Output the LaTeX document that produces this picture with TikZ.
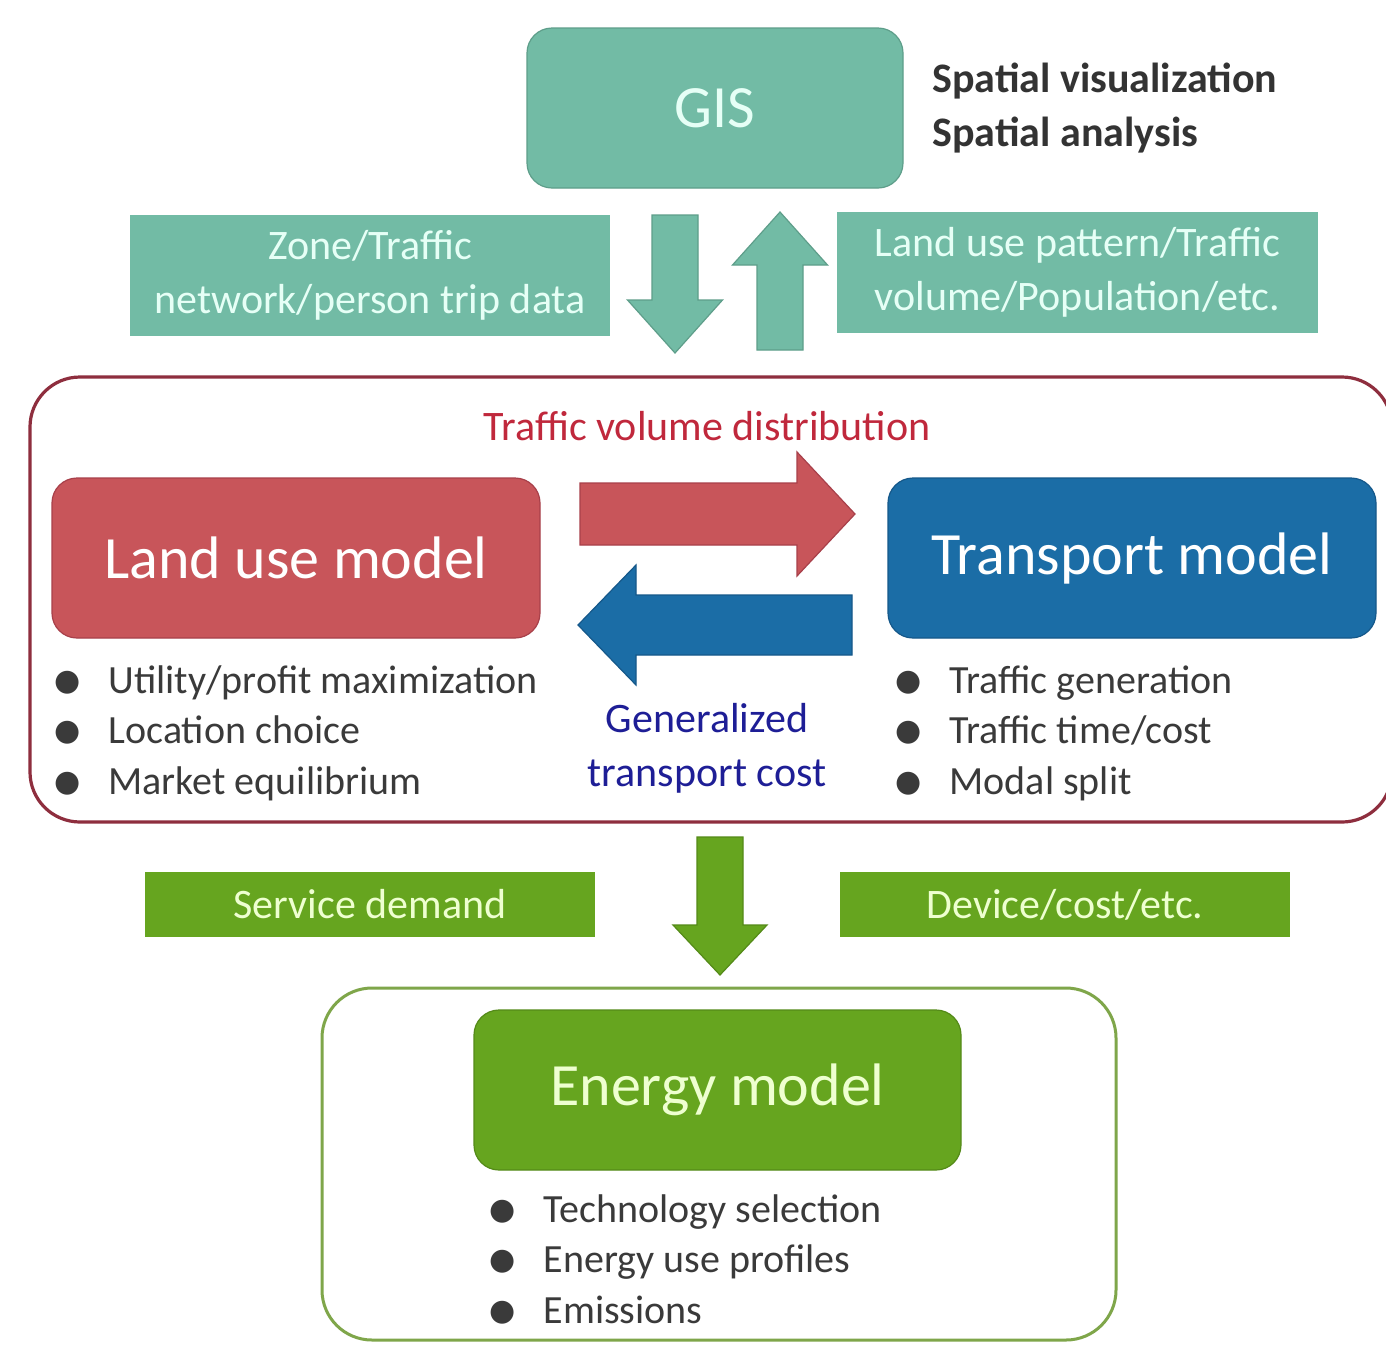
\documentclass[tikz,border=0pt]{standalone}
\usepackage{fontspec}
\setmainfont{Carlito}
\newfontfamily\symfont{DejaVu Sans}
\usetikzlibrary{calc}

\definecolor{tealfill}{HTML}{72BBA5}
\definecolor{tealedge}{HTML}{5E9E8A}
\definecolor{tealtext}{HTML}{E6FFF6}
\definecolor{redfill}{HTML}{C8555A}
\definecolor{rededge}{HTML}{A8404A}
\definecolor{redframe}{HTML}{8E2E3E}
\definecolor{redtext}{HTML}{C0283C}
\definecolor{bluefill}{HTML}{1B6DA6}
\definecolor{blueedge}{HTML}{15588A}
\definecolor{navytext}{HTML}{1E1E96}
\definecolor{greenfill}{HTML}{66A51F}
\definecolor{greenedge}{HTML}{548A18}
\definecolor{greenframe}{HTML}{7FA64A}
\definecolor{greentext}{HTML}{EEFFD0}
\definecolor{bodytext}{HTML}{3A3A3A}

% block arrow: from, to, shaft half width, head half width, head length, style
\newcommand\blockarrow[6]{%
  \coordinate (ba-h) at ($(#2)!#5!(#1)$);
  \filldraw[#6] ($(#1)!#3!90:(#2)$) -- ($(ba-h)!#3!-90:(#1)$)
    -- ($(ba-h)!#4!-90:(#1)$) -- (#2) -- ($(ba-h)!#4!90:(#1)$)
    -- ($(ba-h)!#3!90:(#1)$) -- ($(#1)!#3!-90:(#2)$) -- cycle;
}
\newcommand\blt{\raisebox{1.5pt}{\symfont\fontsize{15pt}{15pt}\selectfont ●}\hspace{14pt}}

\tikzset{
  modelbox/.style={rounded corners=12.5pt, minimum width=244pt, minimum height=80pt,
    font=\fontsize{30pt}{36pt}\selectfont, text=white},
  tealbox/.style={fill=tealfill, draw=tealedge, line width=0.6pt},
  labelbox/.style={align=center, inner sep=0pt, font=\fontsize{21pt}{27pt}\selectfont},
  bulletlist/.style={align=left, inner sep=0pt, text=bodytext,
    font=\fontsize{20pt}{25.25pt}\selectfont},
  tealarrow/.style={fill=tealfill, draw=tealedge, line width=0.6pt},
}

\begin{document}
\begin{tikzpicture}[x=0.5pt, y=-0.5pt]
\useasboundingbox (0,0) rectangle (1386,1350);
\fill[white] (0,0) rectangle (1386,1350);

% GIS block and its note
\node[modelbox, tealbox, minimum width=188pt, text=tealtext] (gis) at (715,108) {GIS};
\node[anchor=west, align=left, inner sep=0pt, text=black!80,
  font=\bfseries\fontsize{21pt}{27pt}\selectfont] (gisnote) at (932,108)
  {Spatial visualization\\Spatial analysis};

% data exchanged with GIS
\node[labelbox, fill=tealfill, text=tealtext, minimum width=240pt, minimum height=60.5pt]
  (zone) at (370,275.5) {Zone/Traffic\\network/person trip data};
\node[labelbox, fill=tealfill, text=tealtext, minimum width=240.5pt, minimum height=60.5pt]
  (landpat) at (1077.5,272.5) {Land use pattern/Traffic\\volume/Population/etc.};

% integrated land use--transport frame
\draw[redframe, line width=1.6pt, rounded corners=25pt] (30,377) rectangle (1392,822);
\node[text=redtext, font=\fontsize{21pt}{27pt}\selectfont, inner sep=0pt] (tvd) at (707,426)
  {Traffic volume distribution};

\node[modelbox, fill=redfill, draw=rededge, line width=0.6pt] (lum) at (296,558) {Land use model};
\node[modelbox, fill=bluefill, draw=blueedge, line width=0.6pt] (tm) at (1132,558) {Transport model};

\node[bulletlist, anchor=west] (lumlist) at (54,733)
  {\blt Utility/profit maximization\\\blt Location choice\\\blt Market equilibrium};
\node[bulletlist, anchor=west] (tmlist) at (895,733)
  {\blt Traffic generation\\\blt Traffic time/cost\\\blt Modal split};

\node[labelbox, text=navytext] (gtc) at (707,748) {Generalized\\transport cost};

% energy side
\node[labelbox, fill=greenfill, text=greentext, minimum width=225pt, minimum height=32.5pt]
  (sd) at (370,904.5) {Service demand};
\node[labelbox, fill=greenfill, text=greentext, minimum width=225pt, minimum height=32.5pt]
  (dce) at (1065,904.5) {Device/cost/etc.};

\draw[greenframe, line width=1.5pt, rounded corners=25pt] (322,988) rectangle (1116,1340);
\node[modelbox, fill=greenfill, draw=greenedge, line width=0.6pt, text=greentext,
  minimum width=243.5pt] (em) at (717.5,1090) {Energy model};
\node[bulletlist, anchor=west] (emlist) at (489,1259)
  {\blt Technology selection\\\blt Energy use profiles\\\blt Emissions};

% block arrows
\coordinate (gisout) at (675,215);  \coordinate (modin)  at (675,353);
\coordinate (modout) at (780,350);  \coordinate (gisin)  at (780,212);
\coordinate (lumout) at (580,514);  \coordinate (tmin)   at (855,514);
\coordinate (tmout)  at (852,625);  \coordinate (lumin)  at (578,625);
\coordinate (frameout) at (720,837); \coordinate (emin)  at (720,975);

\blockarrow{gisout}{modin}{11.5pt}{23.75pt}{26.5pt}{tealarrow}
\blockarrow{modout}{gisin}{11.5pt}{23.75pt}{26.5pt}{tealarrow}
\blockarrow{lumout}{tmin}{15.5pt}{31pt}{29pt}{fill=redfill, draw=rededge, line width=0.6pt}
\blockarrow{tmout}{lumin}{15pt}{30pt}{29pt}{fill=bluefill, draw=blueedge, line width=0.6pt}
\blockarrow{frameout}{emin}{11.5pt}{23.5pt}{25pt}{fill=greenfill, draw=greenedge, line width=0.6pt}
\end{tikzpicture}
\end{document}
